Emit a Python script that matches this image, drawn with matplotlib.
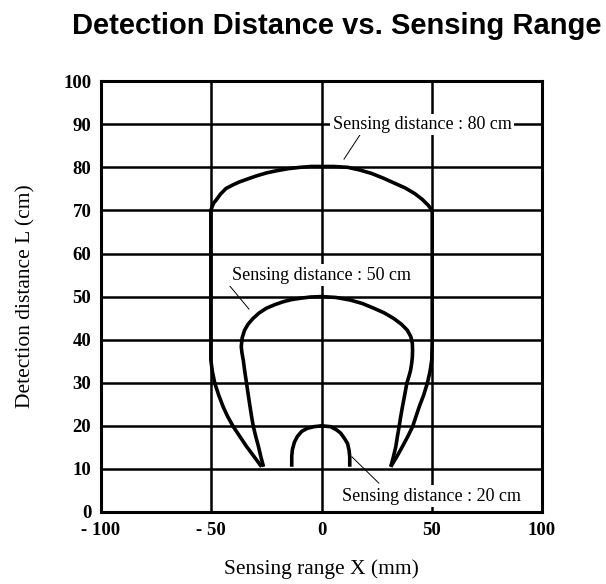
import matplotlib
matplotlib.use("Agg")
import matplotlib.pyplot as plt

# outline points (x in mm, y in cm)
curve_80_x = [-27.2, -30.5, -34.0, -37.0, -40.0, -42.5, -44.6, -46.6, -48.4, -49.5, -50.2, -50.2, -50.2,
              -49.6, -48.9, -47.8, -45.8, -43.3, -40.3, -37.3, -33.5, -29.6, -25.0, -20.5, -15.0, -9.8, -4.8, 0.0,
              5.5, 11.9, 17.2, 22.6, 28.0, 33.2, 38.0, 42.3, 45.6, 48.4, 49.7, 50.2, 50.2, 50.0, 49.2, 48.0,
              46.3, 44.3, 42.8, 41.3, 39.1, 36.7, 34.1, 31.4]
curve_80_y = [10.5, 12.8, 15.2, 17.5, 19.8, 22.1, 24.4, 27.1, 29.9, 32.6, 35.3, 40.0, 70.0,
              70.9, 71.7, 72.4, 73.8, 75.1, 75.9, 76.6, 77.3, 78.0, 78.7, 79.2, 79.7, 80.0, 80.2, 80.2,
              80.2, 80.0, 79.4, 78.6, 77.5, 76.3, 75.2, 73.9, 72.6, 71.2, 70.3, 69.7, 40.0, 35.3, 32.6, 29.9,
              27.1, 24.4, 22.1, 19.8, 17.5, 15.2, 12.8, 10.5]

curve_50_x = [-26.3, -27.5, -28.6, -29.8, -30.9, -31.7, -32.4, -33.2, -34.0, -34.8, -35.5, -36.1, -36.4,
              -36.0, -34.9, -33.3, -31.1, -28.3, -25.0, -21.3, -17.4, -13.6, -9.8, -5.0, 0.0,
              6.5, 13.0, 18.5, 23.7, 28.5, 32.8, 36.2, 38.9, 40.5, 41.2, 41.3, 41.2, 40.9, 40.4, 39.6, 38.7,
              37.7, 36.7, 35.9, 35.2, 34.4, 33.7, 32.6, 31.4]
curve_50_y = [10.5, 12.8, 15.2, 17.5, 19.8, 22.1, 24.4, 27.1, 29.9, 32.6, 35.3, 37.0, 38.4,
              40.4, 42.2, 43.6, 44.9, 46.2, 47.3, 48.1, 48.8, 49.3, 49.6, 49.9, 50.0,
              49.8, 49.2, 48.4, 47.3, 46.2, 44.9, 43.6, 42.2, 40.7, 39.1, 37.5, 36.0, 34.5, 32.9, 31.4, 29.9,
              27.1, 24.4, 22.1, 19.8, 17.5, 15.2, 12.8, 10.5]

curve_20_x = [-13.5, -13.5, -13.2, -12.3, -11.0, -9.0, -6.6, -3.5, 0.0, 4.2, 7.0, 8.7, 10.5, 11.8, 12.5, 12.8, 12.8]
curve_20_y = [10.5, 13.0, 14.5, 16.2, 17.5, 18.7, 19.4, 19.8, 20.0, 19.8, 19.0, 18.3, 17.0, 15.9, 14.3, 12.8, 10.5]

labels = ["Sensing distance : 80 cm", "Sensing distance : 50 cm", "Sensing distance : 20 cm"]
label_x = [5.0, -40.5, 9.5]
label_y = [90.0, 55.0, 3.7]
leader_x = [[18.8, 10.2], [-41.5, -32.9], [13.8, 26.0]]
leader_y = [[88.6, 81.9], [52.4, 47.1], [12.8, 6.7]]

x_ticks = [-100, -50, 0, 50, 100]
x_tick_labels = ["- 100", "- 50", "0", "50", "100"]
y_ticks = [0, 10, 20, 30, 40, 50, 60, 70, 80, 90, 100]

serif = "Liberation Serif"

fig = plt.figure(figsize=(6.06, 5.84), dpi=100)
ax = fig.add_axes([0.1667, 0.1233, 0.7277, 0.7377])

for cx, cy in [(curve_80_x, curve_80_y), (curve_50_x, curve_50_y), (curve_20_x, curve_20_y)]:
    ax.plot(cx, cy, color="black", lw=2.6, solid_joinstyle="round", solid_capstyle="butt", zorder=3)

for lx, ly in zip(leader_x, leader_y):
    ax.plot(lx, ly, color="black", lw=0.7, zorder=3)

for text, tx, ty in zip(labels, label_x, label_y):
    ax.text(tx, ty, text, family=serif, fontsize=13, ha="left", va="center", zorder=4,
            bbox=dict(facecolor="white", edgecolor="none", pad=1.5))

ax.set_xlim(-100, 100)
ax.set_ylim(0, 100)
ax.set_xticks(x_ticks)
ax.set_xticklabels(x_tick_labels)
ax.set_yticks(y_ticks)
ax.tick_params(length=0, pad=7)
for lab in ax.get_xticklabels() + ax.get_yticklabels():
    lab.set_fontfamily(serif)
    lab.set_fontsize(13.5)
    lab.set_fontweight("bold")

ax.set_axisbelow(True)
ax.grid(True, color="black", lw=1.8)
for sp in ax.spines.values():
    sp.set_linewidth(2.2)

ax.set_xlabel("Sensing range X (mm)", family=serif, fontsize=15.5, labelpad=15)
ax.set_ylabel("Detection distance L (cm)", family=serif, fontsize=15.5, labelpad=20)

fig.text(0.556, 0.956, "Detection Distance vs. Sensing Range", family="Liberation Sans",
         fontweight="bold", fontsize=21, ha="center", va="center")

fig.savefig("out.png", dpi=100)
